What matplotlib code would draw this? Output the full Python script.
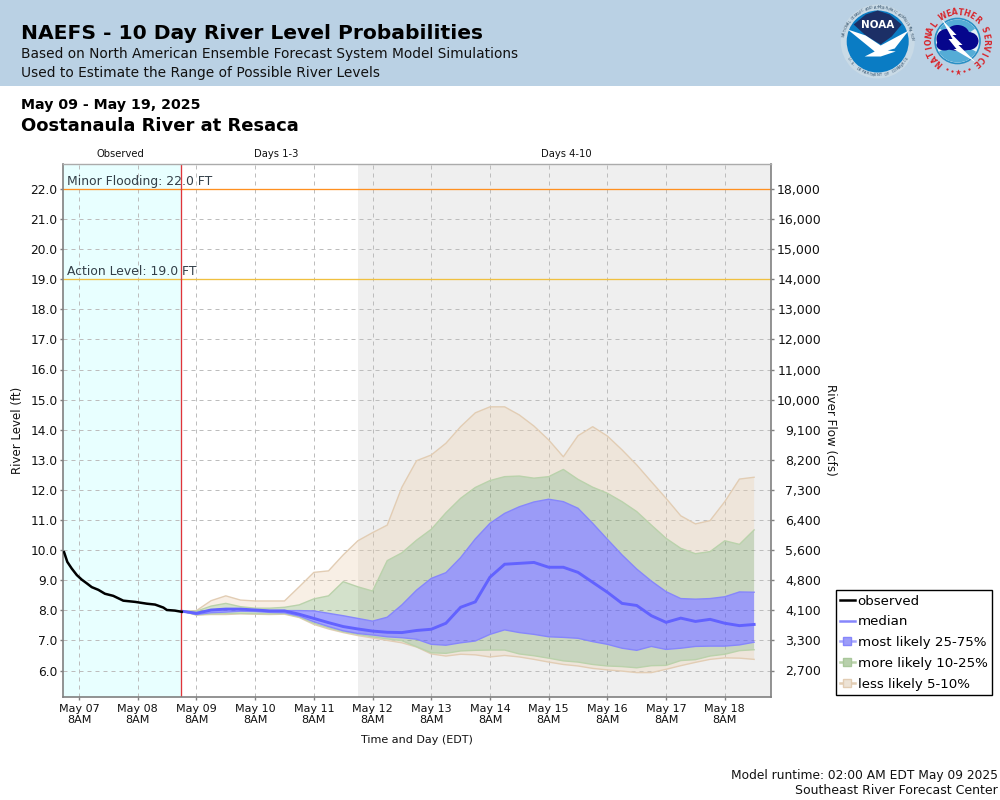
import numpy as np
import pandas as pd
import matplotlib
matplotlib.use("Agg")
import matplotlib.pyplot as plt
from matplotlib.lines import Line2D
from matplotlib.patches import Rectangle, Circle, Polygon, Wedge, Ellipse

# ---------- data ----------
obs_hours_from_may07_8am = [-6.1, -4.8, -3.0, -0.9, 1.1, 3.1, 5.2, 7.9, 10.6, 14.0, 18.1, 22.9, 27.7,
                            31.1, 34.5, 35.9, 39.2, 42.0]
observed = [9.93, 9.61, 9.39, 9.17, 9.02, 8.90, 8.77, 8.68, 8.55, 8.48, 8.32, 8.28, 8.22,
            8.19, 8.09, 8.01, 7.99, 7.95]

upper_5_10 = [7.97, 7.99, 8.32, 8.48, 8.34, 8.31, 8.31, 8.31, 8.78, 9.26, 9.31, 9.84, 10.31, 10.58,
              10.83, 12.09, 12.97, 13.16, 13.55, 14.10, 14.56, 14.76, 14.76, 14.49, 14.12, 13.66,
              13.10, 13.80, 14.10, 13.79, 13.33, 12.83, 12.27, 11.72, 11.14, 10.87, 10.98, 11.61,
              12.36, 12.42]
upper_10_25 = [7.97, 7.97, 8.14, 8.23, 8.12, 8.07, 8.07, 8.10, 8.18, 8.38, 8.48, 8.95, 8.78, 8.64,
               9.65, 9.91, 10.33, 10.69, 11.24, 11.72, 12.08, 12.31, 12.44, 12.46, 12.39, 12.44,
               12.68, 12.35, 12.09, 11.89, 11.61, 11.28, 10.83, 10.39, 10.06, 9.88, 9.95, 10.31,
               10.19, 10.67]
upper_25_75 = [7.97, 7.92, 8.01, 8.05, 8.03, 8.01, 7.99, 7.99, 7.99, 7.98, 7.90, 7.82, 7.73, 7.64,
               7.77, 8.18, 8.67, 9.06, 9.25, 9.75, 10.37, 10.89, 11.22, 11.44, 11.60, 11.69,
               11.61, 11.39, 10.89, 10.36, 9.84, 9.37, 8.97, 8.62, 8.39, 8.37, 8.39, 8.45, 8.61, 8.60]
median = [7.97, 7.90, 8.01, 8.04, 8.04, 8.01, 7.98, 7.98, 7.87, 7.73, 7.59, 7.46, 7.38, 7.31,
          7.27, 7.26, 7.33, 7.37, 7.57, 8.10, 8.28, 9.10, 9.53, 9.56, 9.59, 9.43, 9.43, 9.26,
          8.93, 8.60, 8.23, 8.16, 7.82, 7.60, 7.74, 7.63, 7.70, 7.57, 7.49, 7.53]
lower_25_75 = [7.97, 7.86, 7.92, 7.94, 7.97, 7.96, 7.93, 7.92, 7.81, 7.62, 7.46, 7.32, 7.23, 7.18,
               7.12, 7.09, 7.04, 6.87, 6.84, 6.92, 6.98, 7.20, 7.35, 7.26, 7.20, 7.12, 7.10, 7.07,
               6.96, 6.87, 6.74, 6.67, 6.80, 6.70, 6.74, 6.80, 6.81, 6.81, 6.85, 6.94]
lower_10_25 = [7.97, 7.85, 7.88, 7.89, 7.90, 7.89, 7.88, 7.89, 7.78, 7.57, 7.42, 7.29, 7.20, 7.12,
               7.05, 6.99, 6.79, 6.59, 6.57, 6.65, 6.67, 6.68, 6.68, 6.55, 6.49, 6.41, 6.32, 6.28,
               6.20, 6.15, 6.13, 6.09, 6.16, 6.17, 6.33, 6.36, 6.48, 6.54, 6.66, 6.69]
lower_5_10 = [7.97, 7.84, 7.86, 7.86, 7.88, 7.87, 7.86, 7.87, 7.76, 7.53, 7.38, 7.26, 7.16, 7.08,
              7.00, 6.92, 6.78, 6.55, 6.48, 6.54, 6.52, 6.45, 6.50, 6.45, 6.37, 6.28, 6.20, 6.15,
              6.07, 6.02, 5.98, 5.93, 5.93, 6.04, 6.16, 6.27, 6.37, 6.42, 6.41, 6.37]

stage_ticks = [float(v) for v in range(6, 23)]
flow_labels = ["2,700", "3,300", "4,100", "4,800", "5,600", "6,400", "7,300", "8,200", "9,100",
               "10,000", "11,000", "12,000", "13,000", "14,000", "15,000", "16,000", "18,000"]
x_tick_labels = ["May 07\n8AM", "May 08\n8AM", "May 09\n8AM", "May 10\n8AM", "May 11\n8AM", "May 12\n8AM",
                 "May 13\n8AM", "May 14\n8AM", "May 15\n8AM", "May 16\n8AM", "May 17\n8AM", "May 18\n8AM"]
minor_flood = 22.0
action_level = 19.0

# ---------- time axes ----------
t0 = pd.Timestamp("2025-05-07 08:00")
t_obs = [t0 + pd.Timedelta(hours=h) for h in obs_hours_from_may07_8am]
t_fc = pd.date_range("2025-05-09 02:00", periods=len(median), freq="6h")
x_ticks = pd.date_range(t0, periods=len(x_tick_labels), freq="24h")
now = pd.Timestamp("2025-05-09 01:40")
day4 = pd.Timestamp("2025-05-12 02:00")
xmin = t0 - pd.Timedelta(hours=6.55)
xmax = t0 + pd.Timedelta(hours=282.9)

plt.rcParams['font.family'] = ['DejaVu Sans']
fig = plt.figure(figsize=(10, 8), dpi=100, facecolor='white')

# ---------- page layer in pixel coordinates ----------
bg = fig.add_axes([0, 0, 1, 1], zorder=0)
bg.set_xlim(0, 1000); bg.set_ylim(800, 0); bg.axis('off')
bg.add_patch(Rectangle((0, 0), 1000, 85.5, fc='#BAD1E4', ec='none'))

bg.text(21, 33.5, "NAEFS - 10 Day River Level Probabilities", fontsize=14.55, fontweight='bold', va='center', color='black')
bg.text(21, 54, "Based on North American Ensemble Forecast System Model Simulations", fontsize=9.95, va='center', color='#111111')
bg.text(21, 73, "Used to Estimate the Range of Possible River Levels", fontsize=9.95, va='center', color='#111111')
bg.text(21, 105, "May 09 - May 19, 2025", fontsize=10.2, fontweight='bold', va='center', color='black')
bg.text(21, 126, "Oostanaula River at Resaca", fontsize=12.95, fontweight='bold', va='center', color='black')

bg.text(120, 154, "Observed", fontsize=7.2, ha='center', va='center', color='#111111')
bg.text(276.5, 154, "Days 1-3", fontsize=7.2, ha='center', va='center', color='#111111')
bg.text(566, 154, "Days 4-10", fontsize=7.2, ha='center', va='center', color='#111111')

bg.text(17.5, 430, "River Level (ft)", fontsize=8.5, rotation=90, ha='center', va='center', color='#111111')
bg.text(831, 430, "River Flow (cfs)", fontsize=8.6, rotation=270, ha='center', va='center', color='#111111')
bg.text(417, 740, "Time and Day (EDT)", fontsize=8, ha='center', va='center', color='#111111')
bg.text(998, 776, "Model runtime: 02:00 AM EDT May 09 2025", fontsize=8.8, ha='right', va='center', color='#111111')
bg.text(998, 791, "Southeast River Forecast Center", fontsize=9, ha='right', va='center', color='#111111')

# NOAA logo
cx, cy = 877.7, 41.5
bg.add_patch(Circle((cx, cy), 37, fc='#C9DAE6', ec='none'))
bg.add_patch(Circle((cx, cy), 31, fc='#0A7CC4', ec='none'))
bg.add_patch(Polygon([[cx-24, cy-17], [cx-12, cy-27], [cx, cy-31], [cx+12, cy-27], [cx+24, cy-17],
                      [cx+14, cy-5], [cx+3, cy+3], [cx-12, cy-6]], fc='#1C2F66', ec='none'))
bg.add_patch(Polygon([[cx-30, cy-12], [cx-12, cy-6], [cx+3, cy+4], [cx+31, cy-11], [cx+17, cy+7],
                      [cx+10, cy+9], [cx+18, cy+10], [cx+3, cy+15], [cx-13, cy+15], [cx-3, cy+10],
                      [cx-14, cy+1]], fc='white', ec='none'))
bg.text(cx, cy-17, "NOAA", fontsize=7.5, fontweight='bold', color='white', ha='center', va='center')
ring = "NATIONAL OCEANIC AND ATMOSPHERIC ADMINISTRATION"
for i, ch in enumerate(ring):
    a = np.deg2rad(190 + 165 * i / (len(ring) - 1))
    bg.text(cx + 34 * np.cos(a), cy + 34 * np.sin(a), ch, fontsize=2.6, color='#33506A', ha='center', va='center',
            rotation=-np.rad2deg(a) - 90)
ring = "U.S. DEPARTMENT OF COMMERCE"
for i, ch in enumerate(ring):
    a = np.deg2rad(150 - 120 * i / (len(ring) - 1))
    bg.text(cx + 34 * np.cos(a), cy + 34 * np.sin(a), ch, fontsize=2.6, color='#33506A', ha='center', va='center',
            rotation=-np.rad2deg(a) + 90)

# NWS logo
nx, ny = 957.5, 41
bg.add_patch(Circle((nx, ny), 22.5, fc='#E4EEF4', ec='#2A8FC4', lw=1.2))
bg.add_patch(Wedge((nx, ny), 21.5, 215, 325, fc='#55ACD6', ec='none'))
bg.add_patch(Wedge((nx, ny), 21.5, 30, 150, fc='#55ACD6', ec='none'))
for dx, dy, w, h in [(-11, -2, 20, 20), (0, -6, 24, 20), (11, 0, 20, 18), (2, 3, 34, 14), (-13, 4, 16, 11)]:
    bg.add_patch(Ellipse((nx + dx, ny + dy), w, h, fc='#06068C', ec='none'))
bg.add_patch(Polygon([[nx-16, ny-22], [nx-1, ny-6], [nx-5, ny-6], [nx+5, ny+4], [nx+1, ny+4], [nx+18, ny+21],
                      [nx-4, ny+8], [nx-1, ny+8], [nx-9, ny-2], [nx-5, ny-2]], fc='white', ec='none'))
ring = "NATIONAL WEATHER SERVICE"
for i, ch in enumerate(ring):
    a = np.deg2rad(130 + 280 * i / (len(ring) - 1))
    bg.text(nx + 28.5 * np.cos(a), ny + 28.5 * np.sin(a), ch, fontsize=5.6, fontweight='bold', color='#D8262C',
            ha='center', va='center', rotation=-np.rad2deg(a) - 90)
for dx, dy, mk, ms in [(-11, 28, 'o', 1.6), (-6, 30, 'o', 1.6), (0, 31, '*', 4.5), (6, 30, 'o', 1.6), (11, 28, 'o', 1.6)]:
    bg.plot([nx + dx], [ny + dy], marker=mk, ms=ms, color='#D8262C', mec='none')

# ---------- main chart ----------
L, R, T, B = 63.0, 771.0, 164.0, 697.0
ax = fig.add_axes([L/1000, 1-B/800, (R-L)/1000, (B-T)/800], zorder=2)
ax.patch.set_alpha(0)
px_per_ft = 30.1
ax.set_ylim(6 - (B-670.5)/px_per_ft, 6 + (670.5-T)/px_per_ft)
ax.set_xlim(xmin, xmax)

ax.axvspan(xmin, now, fc='#E8FFFF', ec='none', zorder=0)
ax.axvspan(day4, xmax, fc='#EFEFEF', ec='none', zorder=0)
ax.set_axisbelow(True)
ax.grid(True, color='#BDBDBD', ls=(0, (4, 4)), lw=0.72, zorder=0.5)

tan_fill = (236/255, 208/255, 175/255, 0.32)
green_fill = (110/255, 156/255, 83/255, 0.30)
blue_fill = (73/255, 73/255, 255/255, 0.50)
tan_edge = '#E2CDB4'
green_edge = '#BAD2AB'
blue_edge = '#8686FC'

ax.fill_between(t_fc, upper_10_25, upper_5_10, fc=tan_fill, ec='none', zorder=1)
ax.fill_between(t_fc, lower_5_10, lower_10_25, fc=tan_fill, ec='none', zorder=1)
ax.fill_between(t_fc, upper_25_75, upper_10_25, fc=green_fill, ec='none', zorder=1.1)
ax.fill_between(t_fc, lower_10_25, lower_25_75, fc=green_fill, ec='none', zorder=1.1)
ax.fill_between(t_fc, lower_25_75, upper_25_75, fc=blue_fill, ec='none', zorder=1.2)
for s, c, z in [(upper_5_10, tan_edge, 1.3), (lower_5_10, tan_edge, 1.3),
                (upper_10_25, green_edge, 1.4), (lower_10_25, green_edge, 1.4),
                (upper_25_75, blue_edge, 1.5), (lower_25_75, blue_edge, 1.5)]:
    ax.plot(t_fc, s, color=c, lw=1.0, zorder=z)
ax.plot(t_fc, median, color='#6262FF', lw=2.1, zorder=2, solid_joinstyle='miter')
ax.plot(t_obs, observed, color='black', lw=1.8, zorder=3)

ax.axhline(minor_flood, color='#FF9020', lw=0.95, zorder=2)
ax.axhline(action_level, color='#F0C040', lw=0.95, zorder=2)
ax.axvline(now, color='#E0353A', lw=0.95, zorder=2.5)
ax.annotate("Minor Flooding: 22.0 FT", (xmin, minor_flood), xytext=(3, 1.0), textcoords='offset points',
            fontsize=8.9, color='#333F48', va='bottom', zorder=4)
ax.annotate("Action Level: 19.0 FT", (xmin, action_level), xytext=(3, 1.0), textcoords='offset points',
            fontsize=8.9, color='#333F48', va='bottom', zorder=4)

ax.set_xticks(x_ticks)
ax.set_xticklabels(x_tick_labels, fontsize=8, color='#111111', linespacing=1.1)
ax.set_yticks(stage_ticks)
ax.set_yticklabels([f"{v:.1f}" for v in stage_ticks], fontsize=8.8, color='#111111')
ax.tick_params(axis='both', length=2.5, width=1, color='#808080', pad=2.5)
ax.tick_params(axis='y', pad=1.5)
for name, s in ax.spines.items():
    s.set_color('#808080'); s.set_linewidth(1.2)
ax.spines['top'].set_color('#ABABAB'); ax.spines['top'].set_linewidth(1.0)

ax2 = ax.twinx()
ax2.set_ylim(ax.get_ylim())
ax2.set_zorder(3)
ax2.set_yticks(stage_ticks)
ax2.set_yticklabels(flow_labels, fontsize=9, color='#111111', ha='right')
ax2.tick_params(axis='y', length=2.5, width=1, color='#808080', pad=33.5)
for s in ax2.spines.values():
    s.set_visible(False)

handles = [
    Line2D([], [], color='black', lw=1.8),
    Line2D([], [], color='#8686FC', lw=1.8),
    Line2D([], [], color='#A6A6FC', lw=1.8, marker='s', ms=5.5, mfc='#9C9CF8', mec='#8686FC'),
    Line2D([], [], color='#BAD2AB', lw=1.8, marker='s', ms=5.5, mfc='#B8D0AC', mec='#A9C79B'),
    Line2D([], [], color='#E2CDB4', lw=1.8, marker='s', ms=5.5, mfc='#EDE3D6', mec='#E2CDB4'),
]
labels = ["observed", "median", "most likely 25-75%", "more likely 10-25%", "less likely 5-10%"]
leg = fig.legend(handles, labels, loc='lower left', bbox_to_anchor=(835.5/1000, 1-695/800), fontsize=9.65,
                 frameon=True, fancybox=False, edgecolor='black', framealpha=1, borderpad=0.32, labelspacing=0.58,
                 handlelength=1.12, handletextpad=0.22, borderaxespad=0)
leg.get_frame().set_linewidth(1.0)
leg.set_zorder(5)

fig.savefig("out.png", dpi=100)
